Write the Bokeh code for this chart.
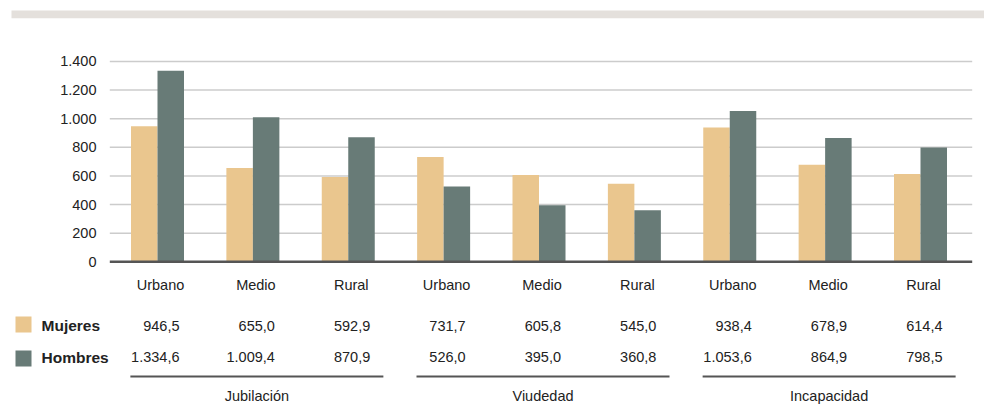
from bokeh.plotting import figure
from bokeh.models import Range1d
from bokeh.core.properties import value
from bokeh.embed import file_html
from bokeh.resources import INLINE
import numpy as np

# ---- data ----
groups = ["Jubilación", "Viudedad", "Incapacidad"]
zones = ["Urbano", "Medio", "Rural"]
categories = [z for g in groups for z in zones]
mujeres = [946.5, 655.0, 592.9, 731.7, 605.8, 545.0, 938.4, 678.9, 614.4]
hombres = [1334.6, 1009.4, 870.9, 526.0, 395.0, 360.8, 1053.6, 864.9, 798.5]
series_names = ["Mujeres", "Hombres"]
y_ticks = [0, 200, 400, 600, 800, 1000, 1200, 1400]

# ---- styling / layout ----
W, H = 984, 404
C_MUJ = "#EAC68E"
C_HOM = "#687B77"
FONT = "Liberation Sans"
FS = "14.5px"
X0PX, SX = 157.0, 95.375       # px of first category center, px per category
Y0PX, SY = 261.3, 0.1431       # px of zero line, px per unit


def X(px):
    return (px - X0PX) / SX


def Y(py):
    return (Y0PX - py) / SY


def fmt(v):
    s = f"{v:,.1f}"
    return s.replace(",", "#").replace(".", ",").replace("#", ".")


def fmt_tick(v):
    return f"{v:,d}".replace(",", ".")


p = figure(width=W, height=H, output_backend="svg", toolbar_location=None,
           x_axis_type=None, y_axis_type=None, min_border=0,
           x_range=Range1d(X(0), X(W)), y_range=Range1d(Y(H), Y(0)),
           outline_line_color=None, background_fill_color="white",
           border_fill_color="white")
p.grid.visible = False

idx = np.arange(len(categories), dtype=float)

# top decorative band
p.quad(left=[X(11)], right=[X(984)], bottom=[Y(17.7)], top=[Y(10)],
       fill_color="#E4E0DC", line_color=None)

# gridlines
grid_y = [t for t in y_ticks if t != 0]
p.segment(x0=[X(109.3)] * len(grid_y), x1=[X(971.7)] * len(grid_y),
          y0=grid_y, y1=grid_y, line_color="#CCCCCC", line_width=1.5)

# bars
bw = 26.5 / SX
p.vbar(x=idx - bw / 2, top=mujeres, bottom=0, width=bw, fill_color=C_MUJ, line_color=None)
p.vbar(x=idx + bw / 2, top=hombres, bottom=0, width=bw, fill_color=C_HOM, line_color=None)

# baseline
p.segment(x0=[X(109.3)], x1=[X(971.7)], y0=[0], y1=[0], line_color="#555555", line_width=2.5)

# y tick labels
p.text(x=[X(96)] * len(y_ticks), y=y_ticks, text=[fmt_tick(t) for t in y_ticks],
       text_align="right", text_baseline="middle", text_font=value(FONT),
       text_font_size=FS, text_color="#222222")

# category labels
p.text(x=idx + 3 / SX, y=[Y(284)] * len(categories), text=categories,
       text_align="center", text_baseline="middle", text_font=value(FONT),
       text_font_size=FS, text_color="#222222")

# values table
for vals, py in ((mujeres, 325), (hombres, 356.5)):
    p.text(x=idx + 22 / SX, y=[Y(py)] * len(vals), text=[fmt(v) for v in vals],
           text_align="right", text_baseline="middle", text_font=value(FONT),
           text_font_size=FS, text_color="#222222")

# legend squares & names
p.rect(x=[X(23), X(23)], y=[Y(324), Y(358)], width=16, height=16,
       width_units="screen", height_units="screen",
       fill_color=[C_MUJ, C_HOM], line_color=None)
p.text(x=[X(41), X(41)], y=[Y(325), Y(356.5)], text=series_names,
       text_align="left", text_baseline="middle", text_font=value(FONT),
       text_font_size="15.5px", text_font_style="bold", text_color="#222222")

# group lines and labels
gc = np.array([idx[i * 3:(i + 1) * 3].mean() for i in range(len(groups))]) + 4 / SX
half = 126.5 / SX
p.segment(x0=gc - half, x1=gc + half, y0=[Y(376)] * 3, y1=[Y(376)] * 3,
          line_color="#555555", line_width=2)
p.text(x=gc, y=[Y(395.5)] * 3, text=groups, text_align="center", text_baseline="middle",
       text_font=value(FONT), text_font_size=FS, text_color="#222222")

open("out.html", "w").write(file_html(p, INLINE))
